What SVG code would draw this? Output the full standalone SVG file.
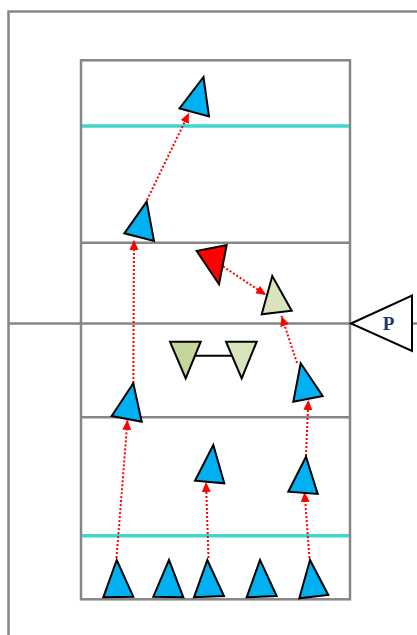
<svg xmlns="http://www.w3.org/2000/svg" width="417" height="635" viewBox="0 0 417 635">
<defs>
<marker id="ah" markerUnits="userSpaceOnUse" markerWidth="11" markerHeight="10" refX="10" refY="4.5" orient="auto">
<path d="M0,0 L10,4.5 L0,9 Z" fill="#FF0000"/>
</marker>
</defs>
<style>
.g{stroke:#868686;stroke-width:2.5;fill:none}
.c{stroke:#3ED6CE;stroke-width:3.5;fill:none}
.tri{stroke:#000;stroke-width:2;stroke-linejoin:miter}
.b{fill:#00B0F0}
.r{fill:#FF0000}
.lg{fill:#D8E4BC}
.dg{fill:#C4D79B}
.a{stroke:#FF0000;stroke-width:2;stroke-dasharray:2 2;fill:none;marker-end:url(#ah)}
</style>
<rect width="417" height="635" fill="#fff"/>
<g id="court">
<polyline class="g" points="8.5,635 8.5,11.5 417,11.5"/>
<rect class="g" x="81" y="60.3" width="269" height="539"/>
<line class="g" x1="81" y1="242.7" x2="350" y2="242.7"/>
<line class="g" x1="81" y1="417.3" x2="350" y2="417.3"/>
<line class="g" x1="9" y1="323.5" x2="417" y2="323.5"/>
<line class="c" x1="82" y1="126" x2="349" y2="126"/>
<line class="c" x1="82" y1="535.7" x2="349" y2="535.7"/>
</g>
<g id="connectors">
<line class="a" x1="116.5" y1="558" x2="127.5" y2="420"/>
<line class="a" x1="133.3" y1="383" x2="134" y2="240"/>
<line class="a" x1="147" y1="200" x2="189" y2="113"/>
<line class="a" x1="208.5" y1="558" x2="206" y2="482"/>
<line class="a" x1="309.5" y1="558" x2="304.5" y2="492"/>
<line class="a" x1="306" y1="456" x2="308.3" y2="400"/>
<line class="a" x1="297" y1="363" x2="281.5" y2="316"/>
<line class="a" x1="223" y1="266.5" x2="266" y2="295"/>
<line x1="194.3" y1="355.7" x2="231.7" y2="355.7" stroke="#000" stroke-width="2"/>
</g>
<g id="t1"><polygon class="tri b" points="203.5,77 179.5,108.5 209,116.5"/></g>
<g id="t2"><polygon class="tri b" points="146.7,201.7 124.3,233.3 154,241"/></g>
<g id="red"><polygon class="tri r" points="196.7,251 226.7,245 219,284.3"/></g>
<g id="green1"><polygon class="tri lg" points="272.3,276 261.7,314.3 291.7,310.7"/></g>
<g id="pair-left"><polygon class="tri dg" points="170,341.7 200.7,341.7 185.7,378.3"/></g>
<g id="pair-right"><polygon class="tri lg" points="226,341.7 256.7,341.7 241.7,378.3"/></g>
<g id="t3"><polygon class="tri b" points="133.3,383.3 111.7,416 141.7,421.7"/></g>
<g id="t4"><polygon class="tri b" points="300.7,363.3 293.3,401.7 322.7,396"/></g>
<g id="t5"><polygon class="tri b" points="213.3,445 195,480.7 224.3,483.3"/></g>
<g id="t6"><polygon class="tri b" points="306,456.7 288.3,491.7 317.7,494"/></g>
<g id="b1"><polygon class="tri b" points="116.7,560 103.3,597.3 133.3,596.7"/></g>
<g id="b2"><polygon class="tri b" points="169,560 153.3,596.7 183.3,597.3"/></g>
<g id="b3"><polygon class="tri b" points="207.3,560 194,597.3 224,596"/></g>
<g id="b4"><polygon class="tri b" points="260,560 246.7,597.3 276.7,596"/></g>
<g id="b5"><polygon class="tri b" points="310,560 299.3,598.3 328.3,595"/></g>
<g id="P">
<polygon points="351,323.5 412,295.5 412,351" fill="#fff" stroke="#000" stroke-width="2"/>
<text x="388.5" y="330" font-family="Liberation Serif, serif" font-weight="bold" font-size="19" fill="#1F3864" text-anchor="middle">P</text>
</g>
</svg>
